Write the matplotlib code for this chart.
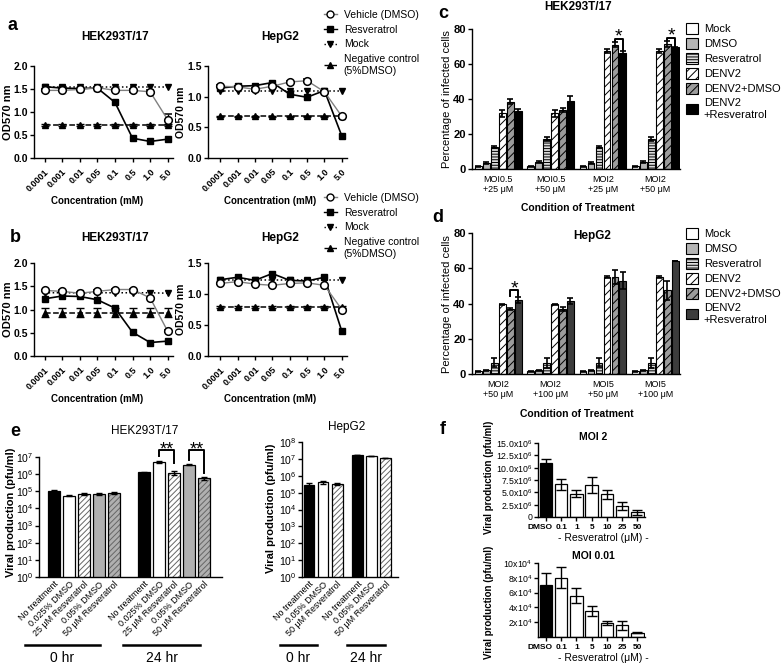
import numpy as np
import matplotlib
matplotlib.use('Agg')
import matplotlib.pyplot as plt
from matplotlib.lines import Line2D
from matplotlib.patches import Patch
from matplotlib.ticker import NullLocator, FuncFormatter
from matplotlib.transforms import ScaledTranslation

plt.rcParams['font.family'] = ['Liberation Sans', 'DejaVu Sans']
plt.rcParams['mathtext.fontset'] = 'custom'
plt.rcParams['mathtext.rm'] = 'Liberation Sans'
plt.rcParams['mathtext.it'] = 'Liberation Sans:italic'
plt.rcParams['mathtext.bf'] = 'Liberation Sans:bold'
plt.rcParams['hatch.linewidth'] = 0.7
plt.rcParams['axes.linewidth'] = 1.0
plt.rcParams['xtick.major.size'] = 3
plt.rcParams['ytick.major.size'] = 3
plt.rcParams['xtick.major.width'] = 1.0
plt.rcParams['ytick.major.width'] = 1.0

# ---------------- data ----------------
conc = ['0.0001', '0.001', '0.01', '0.05', '0.1', '0.5', '1.0', '5.0']

# panel a (cell viability)
a_hek_vehicle = [1.47, 1.47, 1.49, 1.53, 1.47, 1.47, 1.44, 0.83]
a_hek_vehicle_err = [0.02, 0.02, 0.02, 0.02, 0.02, 0.03, 0.03, 0.12]
a_hek_resv = [1.55, 1.52, 1.51, 1.52, 1.21, 0.43, 0.36, 0.41]
a_hek_mock = [1.55, 1.55, 1.55, 1.55, 1.55, 1.55, 1.55, 1.55]
a_hek_neg = [0.72, 0.72, 0.72, 0.72, 0.72, 0.72, 0.72, 0.72]
a_hek_neg_err = [0.02] * 8

a_hep_vehicle = [1.17, 1.16, 1.12, 1.17, 1.24, 1.26, 1.08, 0.68]
a_hep_vehicle_err = [0.02] * 8
a_hep_resv = [1.14, 1.17, 1.18, 1.23, 1.04, 0.99, 1.10, 0.36]
a_hep_mock = [1.10, 1.10, 1.10, 1.10, 1.10, 1.10, 1.10, 1.10]
a_hep_neg = [0.68, 0.68, 0.68, 0.68, 0.68, 0.68, 0.68, 0.68]
a_hep_neg_err = [0.01] * 8

# panel b
b_hek_vehicle = [1.41, 1.39, 1.35, 1.39, 1.43, 1.43, 1.25, 0.53]
b_hek_vehicle_err = [0.02] * 8
b_hek_resv = [1.23, 1.29, 1.28, 1.21, 1.03, 0.51, 0.29, 0.32]
b_hek_mock = [1.36, 1.36, 1.36, 1.36, 1.36, 1.36, 1.36, 1.35]
b_hek_neg = [0.93, 0.93, 0.93, 0.93, 0.93, 0.93, 0.93, 0.93]
b_hek_neg_err = [0.1] * 8

b_hep_vehicle = [1.17, 1.20, 1.16, 1.14, 1.17, 1.18, 1.14, 0.75]
b_hep_vehicle_err = [0.01] * 8
b_hep_resv = [1.23, 1.27, 1.22, 1.33, 1.22, 1.21, 1.27, 0.40]
b_hep_mock = [1.22, 1.22, 1.22, 1.22, 1.22, 1.22, 1.22, 1.22]
b_hep_neg = [0.79, 0.79, 0.79, 0.79, 0.79, 0.79, 0.79, 0.79]
b_hep_neg_err = [0.01] * 8

# panels c, d (percentage of infected cells)
series_names = ['Mock', 'DMSO', 'Resveratrol', 'DENV2', 'DENV2+DMSO', 'DENV2\n+Resveratrol']
c_groups = ['MOI0.5\n+25 \u03bcM', 'MOI0.5\n+50 \u03bcM', 'MOI2\n+25 \u03bcM', 'MOI2\n+50 \u03bcM']
c_vals = [
    [1.5, 1.5, 1.5, 1.5],
    [3.5, 4.0, 3.5, 4.0],
    [12.5, 17.0, 12.5, 17.0],
    [32.0, 32.0, 67.5, 67.5],
    [38.5, 33.5, 71.0, 71.5],
    [33.0, 39.0, 66.5, 69.5],
]
c_errs = [
    [0.2, 0.2, 0.2, 0.2],
    [0.4, 0.4, 0.4, 0.4],
    [0.4, 1.2, 0.4, 1.2],
    [2.0, 2.0, 1.2, 1.2],
    [1.5, 1.2, 1.5, 1.5],
    [1.5, 2.5, 1.0, 0.5],
]
d_groups = ['MOI2\n+50 \u03bcM', 'MOI2\n+100 \u03bcM', 'MOI5\n+50 \u03bcM', 'MOI5\n+100 \u03bcM']
d_vals = [
    [1.5, 1.5, 1.5, 1.5],
    [2.0, 2.0, 2.0, 2.0],
    [6.5, 6.0, 6.5, 6.0],
    [39.5, 39.5, 55.0, 55.0],
    [37.0, 37.0, 55.0, 47.5],
    [42.0, 41.5, 53.0, 64.0],
]
d_errs = [
    [0.2, 0.2, 0.2, 0.2],
    [0.3, 0.3, 0.3, 0.3],
    [2.5, 2.8, 2.5, 2.8],
    [0.5, 0.5, 0.8, 0.8],
    [0.5, 1.0, 4.0, 5.5],
    [1.5, 1.5, 5.0, 0.0],
]

# panel e (viral production, log)
e_hek_labels = ['No treatment', '0.025% DMSO', '25 \u03bcM Resveratrol', '0.05% DMSO', '50 \u03bcM Resveratrol']
e_hek_0hr = [1.1e5, 5.5e4, 7.0e4, 7.0e4, 8.0e4]
e_hek_0hr_err = [1.2e4, 3e3, 6e3, 8e3, 6e3]
e_hek_24hr = [1.3e6, 5.0e6, 1.2e6, 3.5e6, 6.0e5]
e_hek_24hr_err = [1.0e5, 5e5, 2.5e5, 2e5, 1.2e5]
e_hep_labels = ['No treatment', '0.05% DMSO', '50 \u03bcM Resveratrol']
e_hep_0hr = [3.0e5, 4.0e5, 3.2e5]
e_hep_0hr_err = [8e4, 6e4, 3e4]
e_hep_24hr = [1.7e7, 1.5e7, 1.1e7]
e_hep_24hr_err = [1e6, 8e5, 3e5]

# panel f
f_labels = ['DMSO', '0.1', '1', '5', '10', '25', '50']
f_moi2 = [11.0e6, 6.6e6, 4.7e6, 6.5e6, 4.6e6, 2.3e6, 1.0e6]
f_moi2_err = [0.8e6, 1.1e6, 0.7e6, 1.6e6, 0.9e6, 0.8e6, 0.5e6]
f_moi001 = [7.0e4, 8.0e4, 5.6e4, 3.5e4, 1.9e4, 1.6e4, 0.6e4]
f_moi001_err = [1.6e4, 1.4e4, 1.0e4, 0.7e4, 0.3e4, 0.6e4, 0.05e4]

# ---------------- figure ----------------
W, H = 784, 667
fig = plt.figure(figsize=(W / 100, H / 100), dpi=100)


def box(l, t, r, b):
    return fig.add_axes([l / W, 1 - b / H, (r - l) / W, (b - t) / H])


def ftext(x, y, s, **kw):
    kw.setdefault('ha', 'center')
    kw.setdefault('va', 'center')
    fig.text(x / W, 1 - y / H, s, **kw)


def hline(x1, x2, y, lw=1.8):
    fig.add_artist(Line2D([x1 / W, x2 / W], [1 - y / H, 1 - y / H], color='k', lw=lw))


def prism(ax):
    ax.spines['top'].set_visible(False)
    ax.spines['right'].set_visible(False)
    ax.tick_params(direction='out')


# ----- panels a, b -----
def od_panel(ax, veh, veh_err, res, mock, neg, neg_err, ymax, yticks, xlo):
    x = np.arange(len(conc))
    ax.plot(x, mock, ls=':', color='k', marker='v', ms=4.5, lw=1.1, clip_on=False)
    ax.errorbar(x, neg, yerr=neg_err, ls='--', color='k', marker='^', ms=4.5, lw=1.1,
                capsize=3, elinewidth=1, clip_on=False)
    ax.plot(x, res, '-', color='k', marker='s', ms=5, lw=1.2, clip_on=False)
    ax.errorbar(x, veh, yerr=veh_err, color='0.5', lw=1, marker='o', mfc='white', mec='k',
                mew=1.1, ms=5.5, capsize=3, ecolor='k', elinewidth=1, clip_on=False)
    ax.set_ylim(0, ymax)
    ax.set_yticks(yticks)
    ax.set_yticklabels(['%.1f' % v for v in yticks], fontsize=7.5, fontweight='bold')
    ax.set_xlim(xlo, 7.3)
    ax.set_xticks(x)
    ax.set_xticklabels(conc, rotation=45, ha='right', rotation_mode='anchor',
                       fontsize=6.5, fontweight='bold')
    prism(ax)
    ax.tick_params(axis='y', pad=1.5)


od_axes = [
    (box(34, 66, 173, 158), a_hek_vehicle, a_hek_vehicle_err, a_hek_resv, a_hek_mock, a_hek_neg, a_hek_neg_err, 2.0, [0, 0.5, 1.0, 1.5, 2.0], -0.6),
    (box(208, 66, 347, 158), a_hep_vehicle, a_hep_vehicle_err, a_hep_resv, a_hep_mock, a_hep_neg, a_hep_neg_err, 1.5, [0, 0.5, 1.0, 1.5], -0.7),
    (box(34, 263, 173, 356), b_hek_vehicle, b_hek_vehicle_err, b_hek_resv, b_hek_mock, b_hek_neg, b_hek_neg_err, 2.0, [0, 0.5, 1.0, 1.5, 2.0], -0.6),
    (box(208, 263, 347, 356), b_hep_vehicle, b_hep_vehicle_err, b_hep_resv, b_hep_mock, b_hep_neg, b_hep_neg_err, 1.5, [0, 0.5, 1.0, 1.5], -0.7),
]
for item in od_axes:
    od_panel(*item)

for ycen, ytitle, yxl in [(112, 37, 201), (309, 238, 399)]:
    ftext(8, ycen, 'OD570 nm', rotation=90, fontsize=8, fontweight='bold')
    ftext(181, ycen, 'OD570 nm', rotation=90, fontsize=7.5, fontweight='bold')
    ftext(115, ytitle, 'HEK293T/17', fontsize=8.5, fontweight='bold')
    ftext(280, ytitle, 'HepG2', fontsize=8.5, fontweight='bold')
    ftext(97, yxl, 'Concentration (mM)', fontsize=7, fontweight='bold')
    ftext(270, yxl, 'Concentration (mM)', fontsize=7, fontweight='bold')

od_handles = [
    Line2D([], [], color='0.5', lw=1, marker='o', mfc='white', mec='k', ms=5),
    Line2D([], [], color='k', lw=1, marker='s', ms=5),
    Line2D([], [], color='k', lw=1, ls=':', marker='v', ms=4.5),
    Line2D([], [], color='k', lw=1, ls='--', marker='^', ms=4.5),
]
od_labels = ['Vehicle (DMSO)', 'Resveratrol', 'Mock', 'Negative control\n(5%DMSO)']
for ytop in [10, 193]:
    fig.legend(od_handles, od_labels, loc='upper left', bbox_to_anchor=(324 / W, 1 - ytop / H),
               frameon=False, fontsize=7.5, handlelength=1.2, handletextpad=0.7,
               labelspacing=0.45, borderpad=0, borderaxespad=0)

ftext(13, 26, 'a', fontsize=13, fontweight='bold')
ftext(15, 238, 'b', fontsize=13, fontweight='bold')

# ----- panels c, d -----
bar_styles = [
    dict(facecolor='white'),
    dict(facecolor='#b5b5b5'),
    dict(facecolor='#dcdcdc', hatch='------'),
    dict(facecolor='white', hatch='////'),
    dict(facecolor='#9c9c9c', hatch='////'),
    dict(facecolor='black'),
]


def pct_panel(ax, vals, errs, groups, last_color):
    g = np.arange(len(groups))
    for i, (v, e) in enumerate(zip(vals, errs)):
        st = dict(bar_styles[i])
        if i == 5:
            st['facecolor'] = last_color
        x = g + (i - 2.5) * 0.152
        ax.bar(x, v, width=0.13, edgecolor='k', lw=0.8, **st)
        ax.errorbar(x, v, yerr=e, fmt='none', ecolor='k', elinewidth=1.2, capsize=2, capthick=1.2)
    ax.set_ylim(0, 80)
    ax.set_yticks([0, 20, 40, 60, 80])
    ax.set_yticklabels(['0', '20', '40', '60', '80'], fontsize=8, fontweight='bold')
    ax.set_xlim(-0.5, 3.47)
    ax.set_xticks(g)
    ax.set_xticklabels(groups, fontsize=6.5)
    ax.tick_params(axis='x', length=0, pad=4)
    prism(ax)
    ax.tick_params(axis='y', pad=1.5)


def star_bracket(ax, x1, x2, y1, top, y2, txt, fs=14, off=-2):
    ax.plot([x1, x1, x2, x2], [y1, top, top, y2], color='k', lw=1.4, clip_on=False)
    ax.annotate(txt, xy=((x1 + x2) / 2, top), xytext=(0, off), textcoords='offset points',
                ha='center', va='baseline', fontsize=fs, annotation_clip=False)


ax_c = box(472, 29, 680, 169)
pct_panel(ax_c, c_vals, c_errs, c_groups, 'black')
for gi, (l, t, r) in zip([2, 3], [(73.0, 74.5, 68.0), (73.5, 75.0, 70.5)]):
    star_bracket(ax_c, gi + 1.5 * 0.152, gi + 2.5 * 0.152, l, t, r, '*')

ax_d = box(472, 233, 680, 374)
pct_panel(ax_d, d_vals, d_errs, d_groups, '#3c3c3c')
star_bracket(ax_d, 1.5 * 0.152, 2.5 * 0.152, 44.5, 47.5, 44.5, '*')

pct_handles = []
for i, st in enumerate(bar_styles):
    pct_handles.append(Patch(edgecolor='k', lw=0.8, **st))
pct_handles_d = list(pct_handles)
pct_handles_d[5] = Patch(facecolor='#3c3c3c', edgecolor='k', lw=0.8)
for ytop, hh in [(23, pct_handles), (228, pct_handles_d)]:
    fig.legend(hh, series_names, loc='upper left', bbox_to_anchor=(686 / W, 1 - ytop / H),
               frameon=False, fontsize=8, handlelength=1.1, handleheight=1.1,
               handletextpad=0.5, labelspacing=0.35, borderpad=0, borderaxespad=0)

ftext(447, 99, 'Percentage of infected cells', rotation=90, fontsize=8)
ftext(447, 304, 'Percentage of infected cells', rotation=90, fontsize=8)
ftext(578, 7, 'HEK293T/17', fontsize=8.5, fontweight='bold')
ftext(592, 236, 'HepG2', fontsize=8.5, fontweight='bold')
ftext(578, 208, 'Condition of Treatment', fontsize=7.5, fontweight='bold')
ftext(577, 414, 'Condition of Treatment', fontsize=7.5, fontweight='bold')
ftext(443, 13, 'c', fontsize=13, fontweight='bold')
ftext(438, 217, 'd', fontsize=13, fontweight='bold')

# ----- panel e -----
e_hek_styles = [
    dict(facecolor='black'),
    dict(facecolor='white'),
    dict(facecolor='white', hatch='//////'),
    dict(facecolor='#b0b0b0'),
    dict(facecolor='#b0b0b0', hatch='//////'),
]
e_hep_styles = [e_hek_styles[0], e_hek_styles[1], e_hek_styles[2]]


def log_bars(ax, xs, vals, errs, styles):
    for x, v, e, st in zip(xs, vals, errs, styles):
        if 'hatch' in st:
            ax.bar(x, v, width=0.78, facecolor=st['facecolor'], hatch=st['hatch'],
                   edgecolor='0.4', lw=0)
            ax.bar(x, v, width=0.78, fill=False, edgecolor='k', lw=0.9)
        else:
            ax.bar(x, v, width=0.78, facecolor=st['facecolor'], edgecolor='k', lw=0.9)
        ax.errorbar(x, v, yerr=e, fmt='none', ecolor='k', elinewidth=1, capsize=2)


def log_axis(ax, top):
    ax.set_yscale('log')
    ax.set_ylim(1, 10 ** top)
    ax.set_yticks([10 ** k for k in range(top + 1)])
    ax.set_yticklabels([r'$\mathregular{10^{%d}}$' % k for k in range(top + 1)], fontsize=7.5)
    ax.yaxis.set_minor_locator(NullLocator())
    prism(ax)
    ax.tick_params(axis='y', pad=1)


ax_e1 = box(39, 457, 222, 577)
e1_x0 = [0, 1, 2, 3, 4]
e1_x1 = [6, 7, 8, 9, 10]
log_bars(ax_e1, e1_x0, e_hek_0hr, e_hek_0hr_err, e_hek_styles)
log_bars(ax_e1, e1_x1, e_hek_24hr, e_hek_24hr_err, e_hek_styles)
log_axis(ax_e1, 7)
ax_e1.set_xlim(-1, 11.2)
ax_e1.set_xticks(e1_x0 + e1_x1)
ax_e1.set_xticklabels(e_hek_labels * 2, rotation=45, ha='right', rotation_mode='anchor', fontsize=6.5)
ax_e1.tick_params(axis='x', length=0, pad=2)
star_bracket(ax_e1, 7, 8, 1.2e7, 2.6e7, 4.5e6, '**', fs=13, off=-3)
star_bracket(ax_e1, 9, 10, 7e6, 2.6e7, 1.1e6, '**', fs=13, off=-3)

ax_e2 = box(302, 442, 398, 577)
e2_x0 = [0, 1, 2]
e2_x1 = [3.45, 4.45, 5.45]
log_bars(ax_e2, e2_x0, e_hep_0hr, e_hep_0hr_err, e_hep_styles)
log_bars(ax_e2, e2_x1, e_hep_24hr, e_hep_24hr_err, e_hep_styles)
log_axis(ax_e2, 8)
ax_e2.set_xlim(-0.5, 6.35)
ax_e2.set_xticks(e2_x0 + e2_x1)
ax_e2.set_xticklabels(e_hep_labels * 2, rotation=45, ha='right', rotation_mode='anchor', fontsize=6.5)
ax_e2.tick_params(axis='x', length=0, pad=2)

ftext(11, 512, 'Viral production (pfu/ml)', rotation=90, fontsize=8, fontweight='bold')
ftext(271, 508, 'Viral production (pfu/ml)', rotation=90, fontsize=8, fontweight='bold')
ftext(145, 431, 'HEK293T/17', fontsize=8.5)
ftext(347, 427, 'HepG2', fontsize=8.5)
hline(25, 100, 645)
hline(123, 200, 645)
hline(280, 317, 645)
hline(347, 385, 645)
ftext(62, 658, '0 hr', fontsize=10)
ftext(162, 658, '24 hr', fontsize=10)
ftext(298, 658, '0 hr', fontsize=10)
ftext(366, 658, '24 hr', fontsize=10)
ftext(15, 432, 'e', fontsize=13, fontweight='bold')

# ----- panel f -----
def f_panel(ax, vals, errs, ymax, ticks, fmt):
    x = np.arange(len(f_labels))
    colors = ['black'] + ['white'] * (len(f_labels) - 1)
    ax.bar(x, vals, width=0.82, color=colors, edgecolor='k', lw=0.9)
    ax.errorbar(x, vals, yerr=errs, fmt='none', ecolor='k', elinewidth=1, capsize=3.5)
    ax.set_ylim(0, ymax)
    ax.set_yticks(ticks)
    ax.yaxis.set_major_formatter(FuncFormatter(fmt))
    ax.set_xlim(-0.52, 6.5)
    ax.set_xticks(x)
    ax.set_xticklabels(f_labels, fontsize=6, fontweight='bold')
    prism(ax)
    ax.tick_params(axis='y', labelsize=6.3, pad=1)
    ax.tick_params(axis='x', pad=2)
    lab = ax.get_xticklabels()[0]
    lab.set_transform(lab.get_transform() + ScaledTranslation(-4 / 72, 0, fig.dpi_scale_trans))


ax_f1 = box(538, 443, 645, 517)
f_panel(ax_f1, f_moi2, f_moi2_err, 15e6, [0, 2.5e6, 5e6, 7.5e6, 10e6, 12.5e6, 15e6],
        lambda v, p: '0' if v == 0 else r'%.1fx10$^{6}$' % (v / 1e6))
ax_f2 = box(538, 563, 645, 637)
f_panel(ax_f2, f_moi001, f_moi001_err, 10e4, [2e4, 4e4, 6e4, 8e4, 10e4],
        lambda v, p: r'%dx10$^{4}$' % round(v / 1e4))

ftext(593, 437, 'MOI 2', fontsize=7.5, fontweight='bold')
ftext(593, 556, 'MOI 0.01', fontsize=7.5, fontweight='bold')
ftext(603, 538, '- Resveratrol (\u03bcM) -', fontsize=7.5)
ftext(603, 658, '- Resveratrol (\u03bcM) -', fontsize=7.5)
ftext(489, 477, 'Viral production (pfu/ml)', rotation=90, fontsize=7, fontweight='bold')
ftext(489, 602, 'Viral production (pfu/ml)', rotation=90, fontsize=7, fontweight='bold')
ftext(443, 430, 'f', fontsize=13, fontweight='bold')

plt.savefig('out.png', dpi=100)
